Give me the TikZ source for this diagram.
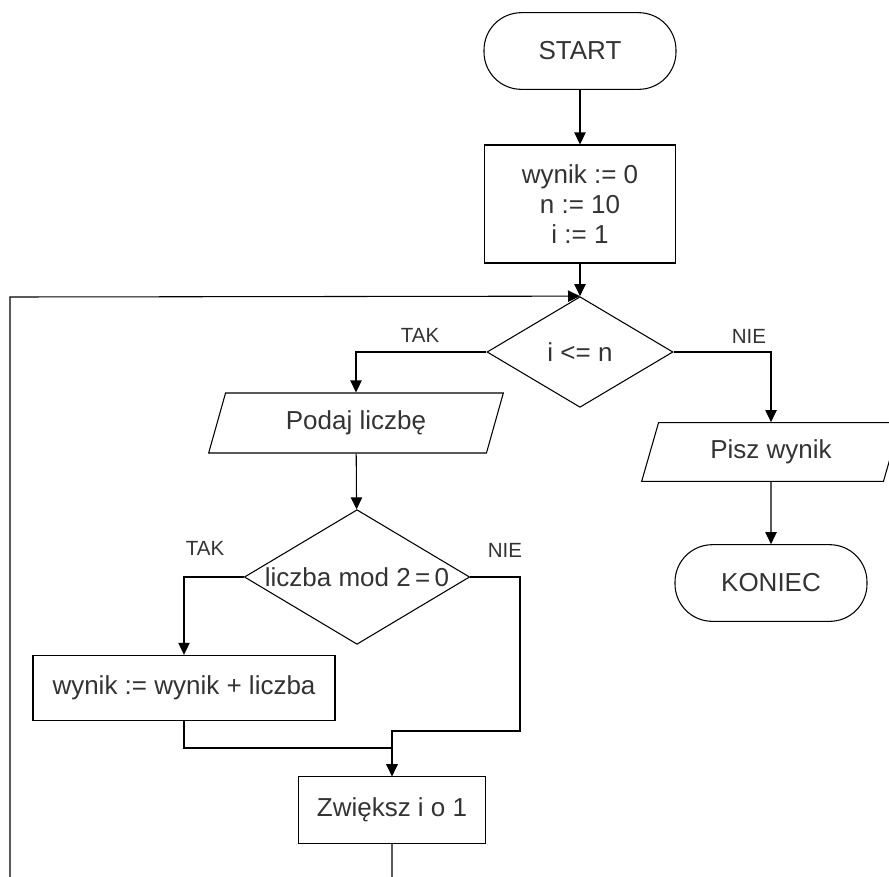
\documentclass[tikz,border=0pt]{standalone}
\usepackage{fontspec}
\setmainfont{Liberation Sans}
\usetikzlibrary{shapes.geometric,arrows.meta}
\tikzset{
terminal/.style={draw, rectangle, rounded corners=28pt, minimum width=144pt, minimum height=57.5pt},
process/.style={draw, rectangle, align=center},
decision/.style={draw, diamond, inner sep=0pt},
io/.style={draw, trapezium, trapezium left angle=63, trapezium right angle=117, trapezium stretches body},
branch/.style={font=\fontsize{15.4}{18}\selectfont}
}
\begin{document}
\begin{tikzpicture}[x=0.75pt, y=-0.75pt, thick, text=black!80, >={Triangle[length=9pt,width=8.5pt]}, font=\fontsize{19.5}{22.5}\selectfont]
\useasboundingbox (0,0) rectangle (889,876);
% start and setup
\node [terminal] (start) at (580,51) {START};
\node [process, minimum width=143pt, minimum height=88.5pt] (init) at (580,204) {wynik := 0\\ n := 10\\ i := 1};
% loop test
\node [decision, minimum width=139.5pt, minimum height=83pt] (test) at (580,352) {i <= n};
\node [io, minimum width=221pt, minimum height=45pt] (read) at (356,423) {Podaj liczbę};
\node [io, minimum width=194pt, minimum height=44pt] (write) at (771,452) {Pisz wynik};
\node [terminal] (stop) at (771,583) {KONIEC};
% body of the loop
\node [decision, minimum width=169pt, minimum height=101pt] (even) at (357,577) {\makebox[0pt]{liczba mod 2\,=\,0}};
\node [process, minimum width=226.5pt, minimum height=49pt] (add) at (184,688) {wynik := wynik + liczba};
\node [process, minimum width=140pt, minimum height=50pt] (inc) at (392,810) {Zwiększ i o 1};
\node [branch] (tak1) at (420,335) {TAK};
\node [branch] (nie1) at (749,336) {NIE};
\node [branch] (tak2) at (205,548) {TAK};
\node [branch] (nie2) at (505,550) {NIE};
\coordinate (nieturn) at (520,731);
\coordinate (merge) at (392,748);
\coordinate (loopleft) at (10,297);
\coordinate (loopdown) at (392,910);
\draw [->] (start) -- (init);
\draw [->] (init) -- (test);
\draw [->] (test.west) -| (read.north);
\draw [->] (test.east) -| (write.north);
\draw [->] (write) -- (stop);
\draw [->] (read) -- (even);
\draw [->] (even.west) -| (add.north);
\draw [->] (even.east) -| (nieturn) -| (inc.north);
\draw [->] (add.south) |- (merge) -- (inc.north);
\draw [->] (inc.south) -- (loopdown) -| (loopleft) -- (test.north);
\end{tikzpicture}
\end{document}
